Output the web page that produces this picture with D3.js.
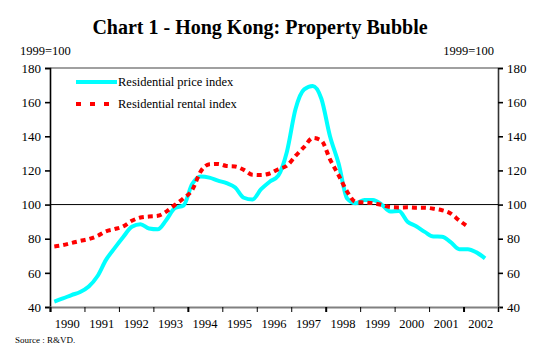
<!DOCTYPE html>
<html>
<head>
  <title>Hong Kong: Property Bubble</title>
  <script src="https://d3js.org/d3.v7.min.js"></script>
  <style>
    body { margin: 0; background: #fff; }
    text { font-family: "Liberation Serif", "Times New Roman", serif; fill: #000; }
  </style>
</head>
<body>
  <div id="chart"></div>
  <script>
  // quarterly series, first point = 1990 Q1
  const years = d3.range(1990, 2003);
  const yTicks = [40, 60, 80, 100, 120, 140, 160, 180];

  const priceIndex = [
    43.2, 45, 47, 48.8,
    52, 58, 67.6, 74.5,
    81, 87, 88.5, 86,
    85.5, 91, 98, 99.5,
    112, 116.5, 115.8, 114,
    112.5, 110, 104, 103,
    109, 113.4, 117, 131,
    156, 167.5, 169.5, 162,
    140, 124, 103.5, 100.8,
    102.7, 102.7, 100, 96,
    96.3, 90, 87.3, 84,
    81.3, 81.2, 78, 73.9,
    73.9, 72, 68.5
  ];
  const rentalIndex = [
    75.5, 76.3, 77.5, 78.7,
    79.8, 81.6, 84.3, 85.6,
    87.2, 90.5, 92.4, 93,
    93.4, 95.9, 99.8, 103.7,
    108.5, 119.5, 123.6, 123.8,
    122.6, 122.3, 120.3, 117.5,
    117.3, 118.2, 120.7, 122.8,
    128.5, 133.8, 139, 137.5,
    126.5, 117.2, 107.5, 101.5,
    101.2, 100.8, 99.8, 98.5,
    98.3, 98.4, 98.2, 98.2,
    97.6, 96.7, 94.8, 90.7,
    87
  ];

  const W = 548, H = 361;
  const plotL = 50, plotR = 498, plotT = 68, plotB = 307;

  const svg = d3.select("#chart").append("svg")
    .attr("width", W).attr("height", H);

  const x = d3.scaleLinear().domain([1990, 2003]).range([plotL, plotR]);
  const y = d3.scaleLinear().domain([40, 180]).range([plotB, plotT]);
  const qx = i => x(1990 + (i + 0.5) / 4);

  // title + unit notes
  svg.append("text")
    .attr("x", 260).attr("y", 34)
    .attr("text-anchor", "middle")
    .style("font-size", "20px").style("font-weight", "bold")
    .text("Chart 1 - Hong Kong: Property Bubble");
  svg.append("text").attr("x", 20).attr("y", 55)
    .style("font-size", "12.5px").text("1999=100");
  svg.append("text").attr("x", 494).attr("y", 55).attr("text-anchor", "end")
    .style("font-size", "12.5px").text("1999=100");

  // frame
  svg.append("line").attr("x1", plotL).attr("x2", plotR).attr("y1", plotT).attr("y2", plotT)
    .attr("stroke", "#808080").attr("stroke-width", 1.5);

  // left axis
  const gl = svg.append("g").attr("transform", `translate(${plotL},0)`)
    .call(d3.axisLeft(y).tickValues(yTicks).tickSize(5).tickPadding(4));
  // right axis
  const gr = svg.append("g").attr("transform", `translate(${plotR},0)`)
    .call(d3.axisRight(y).tickValues(yTicks).tickSize(5).tickPadding(4));
  [gl, gr].forEach(g => {
    g.select(".domain").attr("stroke", "#000").attr("stroke-width", 1.6);
    g.selectAll(".tick line").attr("stroke", "#000").attr("stroke-width", 1.6);
    g.selectAll("text").style("font-size", "13px")
      .style("font-family", '"Liberation Serif", serif');
  });
  gr.select(".domain").attr("stroke", "#333");

  // bottom axis: ticks on year boundaries, labels centred in each year
  const gb = svg.append("g").attr("transform", `translate(0,${plotB})`)
    .call(d3.axisBottom(x).tickValues(d3.range(1990, 2004)).tickSize(5).tickFormat(""));
  gb.select(".domain").attr("stroke", "#808080").attr("stroke-width", 2);
  gb.selectAll(".tick line").attr("stroke", "#000").attr("stroke-width", 1);
  gb.selectAll(".tick").filter(d => (d - 1990) % 4 === 0)
    .select("line").attr("stroke-width", 2);
  svg.append("g").selectAll("text").data(years).join("text")
    .attr("x", d => x(d + 0.5)).attr("y", 328)
    .attr("text-anchor", "middle").style("font-size", "12.5px")
    .text(d => d);

  // 100 reference line
  svg.append("line").attr("x1", plotL).attr("x2", plotR)
    .attr("y1", y(100)).attr("y2", y(100))
    .attr("stroke", "#000").attr("stroke-width", 1);

  // series
  const line = d3.line().x((d, i) => qx(i)).y(d => y(d)).curve(d3.curveMonotoneX);
  svg.append("path").datum(priceIndex).attr("d", line)
    .attr("fill", "none").attr("stroke", "#00ffff").attr("stroke-width", 4)
    .attr("stroke-linejoin", "round");
  svg.append("path").datum(rentalIndex).attr("d", line)
    .attr("fill", "none").attr("stroke", "#ff0000").attr("stroke-width", 4)
    .attr("stroke-dasharray", "5,4");

  // legend
  const legend = [
    { name: "Residential price index", color: "#00ffff", dash: null, y: 82 },
    { name: "Residential rental index", color: "#ff0000", dash: "5,9", y: 104 }
  ];
  const lg = svg.append("g").selectAll("g").data(legend).join("g");
  lg.append("line").attr("x1", 76).attr("x2", 117)
    .attr("y1", d => d.y).attr("y2", d => d.y)
    .attr("stroke", d => d.color).attr("stroke-width", 4)
    .attr("stroke-dasharray", d => d.dash);
  lg.append("text").attr("x", 118).attr("y", d => d.y + 4)
    .style("font-size", "12.5px").text(d => d.name);

  // source
  svg.append("text").attr("x", 15).attr("y", 343)
    .style("font-size", "9px").text("Source : R&VD.");
  </script>
</body>
</html>
